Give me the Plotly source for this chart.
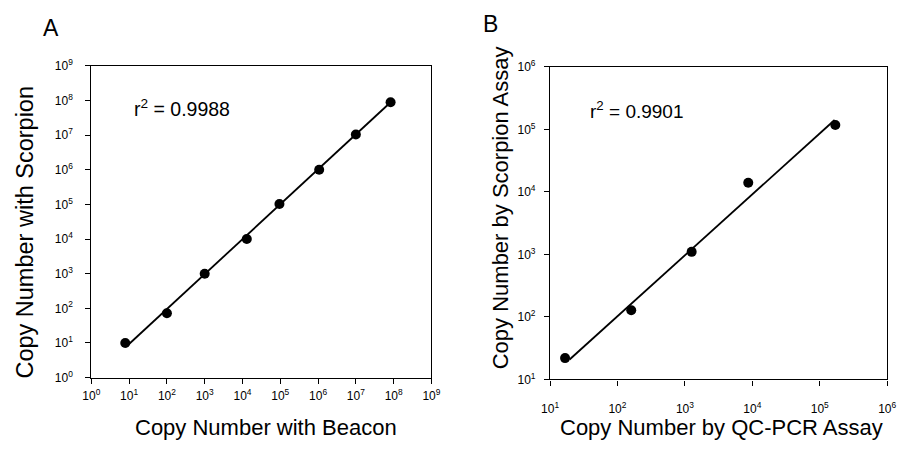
import plotly.graph_objects as go

W, H = 906, 455

# Panel A data (Beacon vs Scorpion)
a_x = [7.9, 100, 1000, 13000, 95000, 1.07e6, 1.0e7, 8.3e7]
a_y = [10, 72, 1000, 10000, 1.03e5, 1.0e6, 1.05e7, 8.9e7]
a_fit_x = [10**0.92, 10**7.92]
a_fit_y = [10**0.89, 10**7.95]
a_r2 = "0.9988"

# Panel B data (QC-PCR vs Scorpion)
b_x = [16.7, 160, 1260, 8700, 170000]
b_y = [22, 128, 1100, 14000, 118000]
b_fit_x = [10**1.29, 10**5.22]
b_fit_y = [10**1.32, 10**5.15]
b_r2 = "0.9901"

a_ticks = list(range(0, 10))
b_ticks = list(range(1, 7))

FONT = "Liberation Sans, Arial, Helvetica, sans-serif"

def px(x):
    return x / W

def py(y):
    return 1 - y / H

fig = go.Figure()

fig.add_trace(go.Scatter(x=a_fit_x, y=a_fit_y, mode="lines",
                         line=dict(color="black", width=1.8),
                         xaxis="x", yaxis="y", showlegend=False))
fig.add_trace(go.Scatter(x=a_x, y=a_y, mode="markers",
                         marker=dict(color="black", size=10),
                         xaxis="x", yaxis="y", showlegend=False))
fig.add_trace(go.Scatter(x=b_fit_x, y=b_fit_y, mode="lines",
                         line=dict(color="black", width=1.8),
                         xaxis="x2", yaxis="y2", showlegend=False))
fig.add_trace(go.Scatter(x=b_x, y=b_y, mode="markers",
                         marker=dict(color="black", size=10),
                         xaxis="x2", yaxis="y2", showlegend=False))

def axis(domain, ticks, anchor, standoff):
    return dict(
        type="log", domain=domain,
        range=[ticks[0], ticks[-1]],
        tickvals=[10**t for t in ticks],
        ticktext=["10<sup>%d</sup>" % t for t in ticks],
        ticks="outside", ticklen=5, tickwidth=1, tickcolor="black",
        showline=True, linecolor="black", linewidth=1.2, mirror=True,
        showgrid=False, zeroline=False, anchor=anchor,
        tickfont=dict(family=FONT, size=12, color="black"),
        ticklabelstandoff=standoff,
    )

fig.update_layout(
    width=W, height=H,
    margin=dict(l=0, r=0, t=0, b=0),
    paper_bgcolor="white", plot_bgcolor="white",
    xaxis=axis([px(84), px(431)], a_ticks, "y", 2),
    yaxis=axis([py(382), py(59)], a_ticks, "x", 10),
    xaxis2=axis([px(552), px(896)], b_ticks, "y2", 13),
    yaxis2=axis([py(384), py(60)], b_ticks, "x2", 6),
)

annots = [
    dict(x=px(42.5), y=py(20), text="A", font=dict(size=23)),
    dict(x=px(491.5), y=py(16), text="B", font=dict(size=23)),
    dict(x=px(262.5), y=py(434), text="Copy Number with Beacon", font=dict(size=22)),
    dict(x=px(16), y=py(231), text="Copy Number with Scorpion", font=dict(size=23.5), textangle=-90),
    dict(x=px(726.7), y=py(434), text="Copy Number by QC-PCR Assay", font=dict(size=22)),
    dict(x=px(501), y=py(206.5), text="Copy Number by Scorpion Assay", font=dict(size=22), textangle=-90),
    dict(x=px(126), y=py(103), text="r<sup>2</sup> = " + a_r2, font=dict(size=19.5), xanchor="left"),
    dict(x=px(591), y=py(105), text="r<sup>2</sup> = " + b_r2, font=dict(size=19), xanchor="left"),
]
for a in annots:
    a.setdefault("xanchor", "center")
    a["yanchor"] = "middle"
    a["xref"] = "paper"
    a["yref"] = "paper"
    a["showarrow"] = False
    a["font"]["family"] = FONT
    a["font"]["color"] = "black"
    fig.add_annotation(**a)

fig.write_html("out.html")
